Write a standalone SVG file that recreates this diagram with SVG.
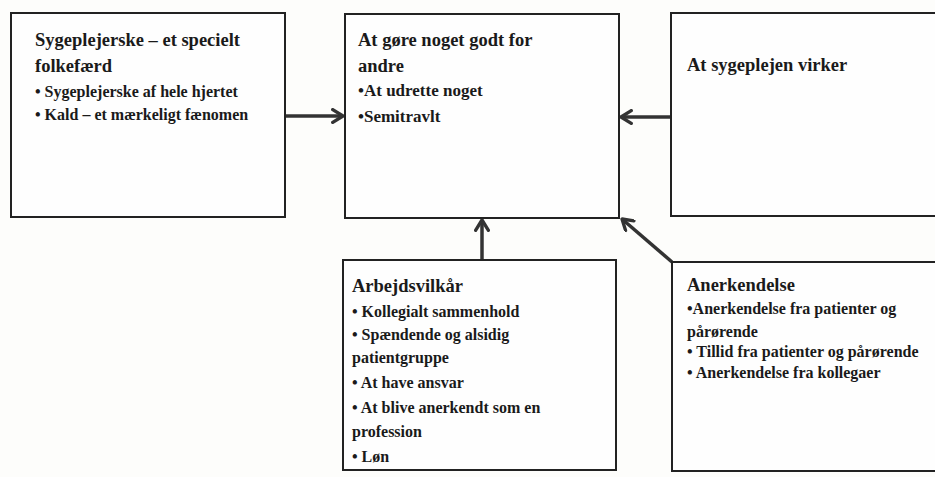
<svg xmlns="http://www.w3.org/2000/svg" width="935" height="477" viewBox="0 0 935 477">
<defs>
<style>
.box{fill:#fefefe;stroke:#222;stroke-width:2}
.t{font-family:"Liberation Serif","Times New Roman",serif;font-weight:bold;fill:#1a1a1a}
.h{font-size:18.5px}
.b{font-size:16px}
.b2{font-size:17px}
.con{stroke:#333;stroke-width:3.5;fill:none}
</style>
<marker id="ah" viewBox="0 0 12 12" refX="10" refY="6" markerWidth="4.4" markerHeight="4.4" orient="auto" markerUnits="strokeWidth">
<path d="M2,1 L10,6 L2,11" fill="none" stroke="#333" stroke-width="2.6" stroke-linecap="round" stroke-linejoin="round"/>
</marker>
</defs>
<rect width="935" height="477" fill="#fdfdfb"/>
<g id="connectors">
<line class="con" x1="285" y1="116" x2="343" y2="116" marker-end="url(#ah)"/>
<line class="con" x1="671" y1="117" x2="621" y2="117" marker-end="url(#ah)"/>
<line class="con" x1="482" y1="260" x2="482" y2="220" marker-end="url(#ah)"/>
<line class="con" x1="672" y1="262" x2="622" y2="219" marker-end="url(#ah)"/>
</g>
<g id="node1">
<rect class="box" x="11" y="13" width="274" height="204"/>
<text class="t h" x="35" y="46">Sygeplejerske – et specielt</text>
<text class="t h" x="35" y="72">folkefærd</text>
<text class="t b" x="35" y="97">• Sygeplejerske af hele hjertet</text>
<text class="t b" x="35" y="120">• Kald – et mærkeligt fænomen</text>
</g>
<g id="node2">
<rect class="box" x="345" y="14" width="274" height="204"/>
<text class="t h" x="358" y="46">At gøre noget godt for</text>
<text class="t h" x="358" y="72">andre</text>
<text class="t b2" x="358" y="96">•At udrette noget</text>
<text class="t b2" x="358" y="122">•Semitravlt</text>
</g>
<g id="node3">
<rect class="box" x="671" y="13" width="280" height="203"/>
<text class="t h" x="687" y="71">At sygeplejen virker</text>
</g>
<g id="node4">
<rect class="box" x="343" y="260" width="273" height="210"/>
<text class="t h" x="352" y="292">Arbejdsvilkår</text>
<text class="t b" x="352" y="317">• Kollegialt sammenhold</text>
<text class="t b" x="352" y="340">• Spændende og alsidig</text>
<text class="t b" x="352" y="363">patientgruppe</text>
<text class="t b" x="352" y="388">• At have ansvar</text>
<text class="t b" x="352" y="413">• At blive anerkendt som en</text>
<text class="t b" x="352" y="437">profession</text>
<text class="t b" x="352" y="462">• Løn</text>
</g>
<g id="node5">
<rect class="box" x="672" y="262" width="280" height="209"/>
<text class="t h" x="687" y="291">Anerkendelse</text>
<text class="t b" x="687" y="314">•Anerkendelse fra patienter og</text>
<text class="t b" x="687" y="337">pårørende</text>
<text class="t b" x="687" y="357">• Tillid fra patienter og pårørende</text>
<text class="t b" x="687" y="378">• Anerkendelse fra kollegaer</text>
</g>
</svg>
